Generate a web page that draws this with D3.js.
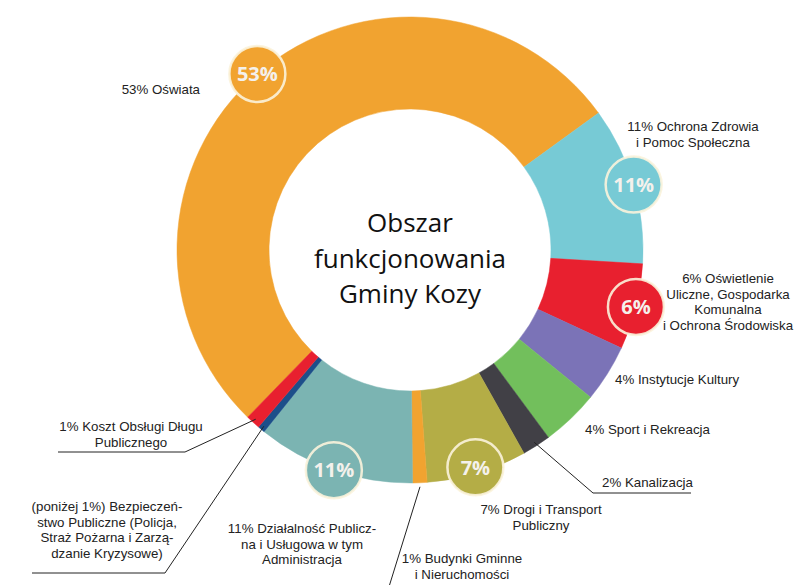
<!DOCTYPE html>
<html>
<head>
<meta charset="utf-8">
<script src="https://cdn.jsdelivr.net/npm/d3@7"></script>
<style>
  body { margin: 0; background: #fff; }
  svg text { font-family: "Liberation Sans", Arial, sans-serif; }
</style>
</head>
<body>
<div id="chart"></div>
<script>
const width = 795, height = 585;

// data, in clockwise order
const categories = [
  "Oświata", "Ochrona Zdrowia", "Oświetlenie", "Instytucje Kultury", "Sport i Rekreacja",
  "Kanalizacja", "Drogi", "Budynki", "Działalność", "Bezpieczeństwo", "Koszt Obsługi Długu"
];
const shares = [53, 11, 6, 4, 4, 2, 7, 1, 11, 0.5, 1];
const colors = ["#f1a330", "#77cad5", "#e8202f", "#7b73b7", "#72bf5c", "#414046",
                "#b4ad46", "#f1a330", "#7bb4b2", "#1d4f8a", "#e8202f"];
const bubbleLabels = ["53%", "11%", "6%", "", "", "", "7%", "", "11%", "", ""];
const labelLines = [
  ["53% Oświata"],
  ["11% Ochrona Zdrowia", "i Pomoc Społeczna"],
  ["6% Oświetlenie", "Uliczne, Gospodarka", "Komunalna", "i Ochrona Środowiska"],
  ["4% Instytucje Kultury"],
  ["4% Sport i Rekreacja"],
  ["2% Kanalizacja"],
  ["7% Drogi i Transport", "Publiczny"],
  ["1% Budynki Gminne", "i Nieruchomości"],
  ["11% Działalność Publicz-", "na i Usługowa w tym", "Administracja"],
  ["(poniżej 1%) Bezpieczeń-", "stwo Publiczne (Policja,", "Straż Pożarna i Zarzą-", "dzanie Kryzysowe)"],
  ["1% Koszt Obsługi Długu", "Publicznego"]
];
const centerTitle = ["Obszar", "funkcjonowania", "Gminy Kozy"];

const cx = 410, cy = 250, rOuter = 233, rInner = 141;
const deg = Math.PI / 180;

// label placement: x, first line y, anchor, and optional leader line with underline
const labelPos = [
  { x: 200, y: 94, anchor: "end" },
  { x: 693, y: 131, anchor: "middle" },
  { x: 728, y: 283, anchor: "middle" },
  { x: 615, y: 384, anchor: "start" },
  { x: 585, y: 434, anchor: "start" },
  { x: 602, y: 487, anchor: "start", leader: [593, 493, 691] },
  { x: 541, y: 514, anchor: "middle" },
  { x: 462, y: 563, anchor: "middle", leader: [388, 590, null] },
  { x: 302, y: 533, anchor: "middle" },
  { x: 107, y: 511, anchor: "middle", leader: [165, 573, 32] },
  { x: 131, y: 431, anchor: "middle", leader: [185, 452, 58] }
];

const data = categories.map((c, i) => ({
  name: c, value: shares[i], color: colors[i], bubble: bubbleLabels[i],
  lines: labelLines[i], pos: labelPos[i]
}));

const total = d3.sum(shares);
const start = 54 * deg - (shares[0] / total) * 2 * Math.PI;

const pie = d3.pie().sort(null).value(d => d.value)
  .startAngle(start).endAngle(start + 2 * Math.PI);
const arcs = pie(data);

const arc = d3.arc().innerRadius(rInner).outerRadius(rOuter);

const svg = d3.select("#chart").append("svg")
  .attr("width", width).attr("height", height);

const g = svg.append("g").attr("transform", `translate(${cx},${cy})`);

g.selectAll("path.slice")
  .data(arcs)
  .join("path")
  .attr("class", "slice")
  .attr("d", arc)
  .attr("fill", d => d.data.color)
  .attr("stroke", d => d.data.color)
  .attr("stroke-width", 0.5);

// leader lines
const leaders = arcs.filter(d => d.data.pos.leader);
svg.selectAll("polyline.leader")
  .data(leaders)
  .join("polyline")
  .attr("class", "leader")
  .attr("fill", "none")
  .attr("stroke", "#222")
  .attr("stroke-width", 1)
  .attr("points", d => {
    const a = (d.startAngle + d.endAngle) / 2;
    const r = d.data.name === "Budynki" ? rOuter + 4 : rOuter - 4;
    const p0 = [cx + Math.sin(a) * r, cy - Math.cos(a) * r];
    const [lx, ly, ex] = d.data.pos.leader;
    const pts = [p0, [lx, ly]];
    if (ex !== null) pts.push([ex, ly]);
    return pts.map(p => p.join(",")).join(" ");
  });

// bubbles on outer edge
const bubbles = arcs.filter(d => d.data.bubble);
const bub = g.selectAll("g.bubble")
  .data(bubbles)
  .join("g")
  .attr("class", "bubble")
  .attr("transform", d => {
    const a = (d.startAngle + d.endAngle) / 2;
    const r = d.data.bubble === "7%" ? rOuter - 6 : rOuter;
    return `translate(${Math.sin(a) * r},${-Math.cos(a) * r})`;
  });

bub.append("circle")
  .attr("r", 28)
  .attr("fill", d => d.data.color)
  .attr("stroke", "#fbf3dc")
  .attr("stroke-opacity", 0.9)
  .attr("stroke-width", 2.5);

bub.append("text")
  .attr("text-anchor", "middle")
  .attr("dy", "0.36em")
  .style("font-family", "'Open Sans', sans-serif")
  .style("font-weight", 700)
  .style("font-size", "20px")
  .attr("fill", "#f4f1ec")
  .text(d => d.data.bubble);

// outer labels
const labels = svg.selectAll("text.label")
  .data(data)
  .join("text")
  .attr("class", "label")
  .attr("text-anchor", d => d.pos.anchor)
  .attr("fill", "#222")
  .style("font-size", "13.3px");

labels.selectAll("tspan")
  .data(d => d.lines.map((t, i) => ({ t, i, pos: d.pos })))
  .join("tspan")
  .attr("x", d => d.pos.x)
  .attr("y", d => d.pos.y + d.i * 15.7)
  .text(d => d.t);

// center title
svg.append("text")
  .attr("text-anchor", "middle")
  .style("font-family", "'Open Sans', sans-serif")
  .style("font-size", "26px")
  .attr("fill", "#111")
  .selectAll("tspan")
  .data(centerTitle)
  .join("tspan")
  .attr("x", cx)
  .attr("y", (d, i) => 232 + i * 35.5)
  .text(d => d);
</script>
</body>
</html>
